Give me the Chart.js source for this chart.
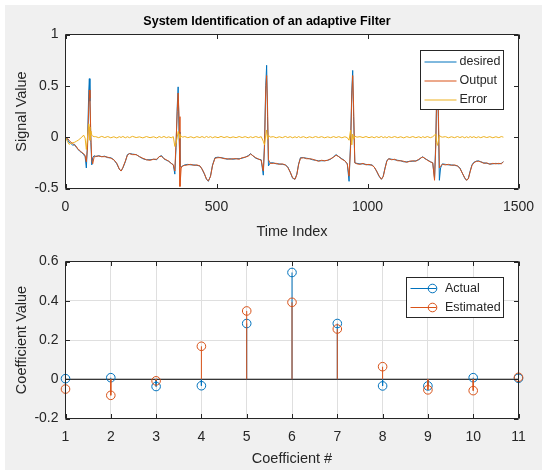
<!DOCTYPE html>
<meta charset="utf-8">
<title>System Identification of an adaptive Filter</title>
<script src="https://cdn.jsdelivr.net/npm/chart.js@4/dist/chart.umd.min.js"></script>
<style>
body { margin: 0; background: #fff; }
.fig { position: absolute; left: 5px; top: 5px; width: 537px; height: 465px; background: #f0f0f0; }
canvas { position: absolute; left: 0; }
.top { top: 0; }
.bottom { top: 245px; }
</style>

<div class="fig"></div>
<canvas class="top" width="547" height="245"></canvas>
<canvas class="bottom" width="547" height="225"></canvas>

<script>
// ---- top plot: signals vs time index ----
const timeIdx = [
	0, 6, 12, 18, 24, 30, 36, 42, 48, 54, 60, 65, 69, 73, 77, 79, 81, 84, 87, 90, 95,
	100, 110, 120, 130, 140, 150, 160, 170, 178, 184, 190, 198, 205, 212, 222, 234, 245, 256, 268, 280,
	292, 302, 310, 318, 326, 334, 342, 350, 357, 362, 366, 370, 373, 376, 379, 383, 388,
	395, 405, 415, 425, 435, 445, 452, 460, 467, 473, 480, 487, 495, 505, 515, 525, 535, 545, 555, 565,
	575, 585, 595, 605, 613, 620, 630, 640, 648, 655, 659, 663, 666, 669, 672, 678,
	688, 698, 708, 718, 728, 736, 744, 752, 760, 766, 772, 778, 788, 798, 808, 818, 828, 838, 848, 858,
	868, 878, 888, 896, 905, 915, 925, 933, 939, 944, 948, 951, 954, 958, 965,
	975, 985, 995, 1005, 1015, 1022, 1030, 1038, 1046, 1052, 1058, 1064, 1070, 1080, 1090, 1100, 1110, 1120, 1130, 1140,
	1150, 1160, 1170, 1178, 1183, 1190, 1198, 1208, 1216, 1222, 1226, 1229, 1232, 1235, 1238, 1242, 1248,
	1258, 1268, 1278, 1288, 1298, 1306, 1314, 1322, 1328, 1334, 1340, 1346, 1352, 1360, 1367, 1375, 1385, 1395, 1405, 1415,
	1425, 1435, 1443, 1450
];

const desired = [
	0, -0.02, -0.05, -0.06, -0.08, -0.07, -0.10, -0.12, -0.14, -0.15, -0.17, -0.19, -0.30, -0.05, 0.45, 0.57, 0.35, -0.05, -0.27, -0.20, -0.18,
	-0.19, -0.18, -0.19, -0.185, -0.20, -0.20, -0.22, -0.26, -0.31, -0.33, -0.30, -0.24, -0.17, -0.16, -0.165, -0.17, -0.19, -0.21, -0.22, -0.22,
	-0.215, -0.22, -0.19, -0.18, -0.21, -0.225, -0.235, -0.255, -0.27, -0.36, -0.10, 0.30, 0.49, 0.05, -0.28, -0.29, -0.28,
	-0.27, -0.265, -0.27, -0.27, -0.275, -0.28, -0.31, -0.36, -0.41, -0.43, -0.38, -0.27, -0.20, -0.195, -0.20, -0.205, -0.215, -0.21, -0.215, -0.21,
	-0.21, -0.205, -0.195, -0.18, -0.16, -0.18, -0.205, -0.215, -0.22, -0.37, -0.05, 0.50, 0.70, 0.20, -0.28, -0.25,
	-0.25, -0.26, -0.26, -0.265, -0.27, -0.29, -0.34, -0.40, -0.41, -0.36, -0.26, -0.20, -0.20, -0.205, -0.21, -0.22, -0.225, -0.23, -0.23, -0.23,
	-0.225, -0.215, -0.19, -0.17, -0.19, -0.21, -0.23, -0.26, -0.43, -0.05, 0.45, 0.65, 0.20, -0.25, -0.255,
	-0.26, -0.26, -0.265, -0.27, -0.27, -0.29, -0.33, -0.38, -0.41, -0.38, -0.30, -0.23, -0.21, -0.215, -0.22, -0.225, -0.23, -0.24, -0.24, -0.235,
	-0.235, -0.23, -0.22, -0.20, -0.19, -0.21, -0.22, -0.24, -0.25, -0.40, -0.05, 0.40, 0.55, 0.10, -0.42, -0.30, -0.26,
	-0.265, -0.27, -0.27, -0.275, -0.28, -0.30, -0.35, -0.40, -0.42, -0.40, -0.33, -0.27, -0.245, -0.235, -0.23, -0.24, -0.25, -0.255, -0.26, -0.26,
	-0.255, -0.26, -0.255, -0.24
];

const output = [
	0, -0.01, -0.03, -0.05, -0.06, -0.08, -0.09, -0.12, -0.13, -0.15, -0.16, -0.18, -0.24, -0.10, 0.30, 0.46, 0.38, 0.00, -0.22, -0.26, -0.19,
	-0.185, -0.185, -0.19, -0.19, -0.195, -0.205, -0.22, -0.255, -0.31, -0.33, -0.295, -0.235, -0.175, -0.16, -0.17, -0.17, -0.19, -0.205, -0.22, -0.225,
	-0.215, -0.215, -0.19, -0.185, -0.21, -0.22, -0.235, -0.255, -0.27, -0.33, -0.05, 0.25, 0.43, 0.20, -0.48, -0.30, -0.28,
	-0.275, -0.27, -0.265, -0.275, -0.27, -0.28, -0.31, -0.355, -0.41, -0.425, -0.385, -0.275, -0.205, -0.2, -0.2, -0.21, -0.21, -0.215, -0.21, -0.21,
	-0.215, -0.2, -0.195, -0.185, -0.165, -0.18, -0.2, -0.215, -0.225, -0.33, -0.10, 0.45, 0.60, 0.30, -0.22, -0.255,
	-0.255, -0.255, -0.265, -0.26, -0.27, -0.295, -0.34, -0.395, -0.41, -0.365, -0.265, -0.205, -0.2, -0.21, -0.21, -0.215, -0.225, -0.235, -0.225, -0.23,
	-0.225, -0.21, -0.195, -0.175, -0.19, -0.215, -0.23, -0.26, -0.38, -0.10, 0.40, 0.60, 0.30, -0.25, -0.26,
	-0.265, -0.255, -0.27, -0.265, -0.275, -0.29, -0.33, -0.375, -0.41, -0.385, -0.305, -0.235, -0.21, -0.22, -0.215, -0.23, -0.23, -0.235, -0.245, -0.235,
	-0.23, -0.235, -0.215, -0.2, -0.195, -0.205, -0.225, -0.24, -0.25, -0.42, -0.10, 0.40, 0.50, 0.20, -0.30, -0.28, -0.265,
	-0.27, -0.265, -0.275, -0.27, -0.28, -0.305, -0.35, -0.395, -0.42, -0.405, -0.335, -0.275, -0.25, -0.235, -0.235, -0.24, -0.255, -0.25, -0.265, -0.255,
	-0.26, -0.255, -0.26, -0.24
];

const errorSig = [
	0, -0.04, -0.07, -0.06, -0.055, -0.05, -0.04, -0.03, -0.015, 0.0, 0.02, -0.01, -0.12, 0.0, 0.13, 0.10, -0.03, 0.06, 0.02, 0.01, 0.005,
	0.005, -0.005, 0.008, -0.004, 0.006, -0.006, 0.004, -0.008, 0.005, -0.003, 0.007, -0.006, 0.004, -0.005, 0.008, -0.004, 0.003, -0.007, 0.006, -0.005,
	0.004, -0.008, 0.006, -0.004, 0.007, -0.005, 0.003, -0.006, 0.005, -0.09, -0.06, 0.00, 0.055, 0.03, -0.01, 0.01, 0.0,
	0.006, -0.005, 0.004, -0.007, 0.005, -0.004, 0.006, -0.005, 0.007, -0.003, 0.005, -0.006, 0.004, -0.005, 0.007, -0.004, 0.005, -0.006, 0.003, -0.005,
	0.006, -0.004, 0.005, -0.006, 0.004, -0.005, 0.006, -0.004, 0.005, -0.04, -0.075, 0.02, 0.07, -0.02, 0.02, 0.0,
	0.005, -0.006, 0.004, -0.005, 0.007, -0.004, 0.005, -0.006, 0.004, -0.005, 0.006, -0.004, 0.005, -0.007, 0.004, -0.005, 0.006, -0.004, 0.005, -0.006,
	0.003, -0.005, 0.006, -0.004, 0.005, -0.006, 0.004, -0.005, -0.03, 0.07, -0.075, 0.03, -0.02, 0.01, 0.0,
	0.005, -0.004, 0.006, -0.005, 0.004, -0.006, 0.005, -0.004, 0.007, -0.005, 0.004, -0.006, 0.005, -0.004, 0.006, -0.005, 0.004, -0.007, 0.005, -0.004,
	0.006, -0.005, 0.004, -0.006, 0.005, -0.004, 0.006, -0.005, 0.004, 0.02, 0.03, -0.05, -0.08, -0.03, 0.02, 0.005, 0.0,
	0.005, -0.006, 0.004, -0.005, 0.006, -0.004, 0.005, -0.006, 0.004, -0.005, 0.006, -0.004, 0.005, -0.006, 0.004, -0.005, 0.006, -0.004, 0.005, -0.006,
	0.004, -0.005, 0.006, 0.0
];

const signalNames = ['desired', 'Output', 'Error'];

// ---- bottom plot: filter coefficients ----
const coefIdx = [1, 2, 3, 4, 5, 6, 7, 8, 9, 10, 11];
const actualCoef = [0.003, 0.008, -0.037, -0.033, 0.284, 0.544, 0.284, -0.034, -0.034, 0.008, 0.005];
const estimatedCoef = [-0.05, -0.082, -0.008, 0.168, 0.348, 0.392, 0.256, 0.064, -0.054, -0.058, 0.01];
const coefNames = ['Actual', 'Estimated'];

const BLUE = '#0072BD', ORANGE = '#D95319', YELLOW = '#EDB120', AXIS = '#262626';
const FONT = "'Liberation Sans', Arial, sans-serif";

Chart.defaults.font.family = FONT;
Chart.defaults.color = AXIS;

const xy = (xs, ys) => xs.map((x, i) => ({x: x, y: ys[i]}));
// stem: line from baseline to value, broken with a null between stems
const stems = (xs, ys) => xs.flatMap((x, i) => [{x: x, y: 0}, {x: x, y: ys[i]}, {x: x, y: null}]);
// matlab prints 1 not 1.0, and no thousands separator
const plainTick = v => String(+v.toFixed(2));

// white axes face, box with ticks pointing inward
const axesBox = {
	id: 'axesBox',
	beforeDatasetsDraw(chart) {
		const {ctx, chartArea: a} = chart;
		ctx.save();
		ctx.fillStyle = '#fff';
		ctx.globalCompositeOperation = 'destination-over';
		ctx.fillRect(a.left, a.top, a.right - a.left, a.bottom - a.top);
		ctx.restore();
	},
	afterDatasetsDraw(chart) {
		const {ctx, chartArea: a, scales: {x, y}} = chart;
		const len = 4.5;
		ctx.save();
		ctx.strokeStyle = AXIS;
		ctx.lineWidth = 1;
		ctx.beginPath();
		x.ticks.forEach(t => {
			const px = Math.round(x.getPixelForValue(t.value)) + 0.5;
			ctx.moveTo(px, a.bottom); ctx.lineTo(px, a.bottom - len);
			ctx.moveTo(px, a.top); ctx.lineTo(px, a.top + len);
		});
		y.ticks.forEach(t => {
			const py = Math.round(y.getPixelForValue(t.value)) + 0.5;
			ctx.moveTo(a.left, py); ctx.lineTo(a.left + len, py);
			ctx.moveTo(a.right, py); ctx.lineTo(a.right - len, py);
		});
		ctx.rect(a.left, a.top, a.right - a.left, a.bottom - a.top);
		ctx.stroke();
		ctx.restore();
	}
};

// matlab style legend box inside the axes
function boxLegend(names, colors, box, withMarker) {
	return {
		id: 'boxLegend',
		afterDraw(chart) {
			const ctx = chart.ctx;
			ctx.save();
			ctx.fillStyle = '#fff';
			ctx.strokeStyle = AXIS;
			ctx.lineWidth = 1;
			ctx.fillRect(box.x, box.y, box.w, box.h);
			ctx.strokeRect(box.x, box.y, box.w, box.h);
			ctx.font = `12.5px ${FONT}`;
			ctx.textBaseline = 'middle';
			names.forEach((name, i) => {
				const y = box.y + box.first + i * box.step;
				ctx.strokeStyle = colors[i];
				ctx.beginPath();
				ctx.moveTo(box.x + 4, y);
				ctx.lineTo(box.x + box.line, y);
				ctx.stroke();
				if (withMarker) {
					ctx.beginPath();
					ctx.arc(box.x + box.line - 4, y, 4.3, 0, Math.PI * 2);
					ctx.stroke();
				}
				ctx.fillStyle = AXIS;
				ctx.fillText(name, box.x + box.text, y);
			});
			ctx.restore();
		}
	};
}

const plotTitle = {
	id: 'plotTitle',
	afterDraw(chart) {
		const ctx = chart.ctx;
		ctx.save();
		ctx.font = `bold 12.5px ${FONT}`;
		ctx.fillStyle = '#000';
		ctx.textAlign = 'center';
		ctx.textBaseline = 'middle';
		ctx.fillText('System Identification of an adaptive Filter', 267, 22);
		ctx.restore();
	}
};

const tickFont = {size: 14};
const labelFont = {size: 14.5};

new Chart(document.querySelector('.top'), {
	type: 'line',
	data: {
		datasets: [
			{label: signalNames[0], data: xy(timeIdx, desired), borderColor: BLUE, order: 3},
			{label: signalNames[1], data: xy(timeIdx, output), borderColor: ORANGE, order: 2},
			{label: signalNames[2], data: xy(timeIdx, errorSig), borderColor: YELLOW, order: 1},
		]
	},
	options: {
		responsive: false,
		devicePixelRatio: 1,
		animation: false,
		events: [],
		layout: {padding: {top: 34.5, right: 28.5, left: 0, bottom: 0}},
		elements: {
			line: {borderWidth: 1, tension: 0},
			point: {radius: 0},
		},
		plugins: {legend: {display: false}, tooltip: {enabled: false}},
		scales: {
			x: {
				type: 'linear',
				min: 0, max: 1500,
				ticks: {stepSize: 500, font: tickFont, padding: 10, callback: plainTick},
				grid: {display: false, drawTicks: false},
				border: {display: false},
				title: {display: true, text: 'Time Index', font: labelFont, padding: {top: 0, bottom: 4}},
				afterFit: s => { s.height = 56.5; },
			},
			y: {
				min: -0.5, max: 1,
				ticks: {stepSize: 0.5, font: tickFont, padding: 7, callback: plainTick},
				grid: {display: false, drawTicks: false},
				border: {display: false},
				title: {display: true, text: 'Signal Value', font: labelFont, padding: {top: 13, bottom: 0}},
				afterFit: s => { s.width = 65.5; },
			}
		}
	},
	plugins: [axesBox, plotTitle, boxLegend(signalNames, [BLUE, ORANGE, YELLOW],
		{x: 420.5, y: 50.5, w: 83, h: 59, first: 11.5, step: 19, line: 36, text: 39}, false)]
});

new Chart(document.querySelector('.bottom'), {
	type: 'line',
	data: {
		datasets: [
			{data: [{x: 1, y: 0}, {x: 11, y: 0}], borderColor: '#000', order: 5},
			{data: stems(coefIdx, actualCoef), borderColor: BLUE, order: 4},
			{data: xy(coefIdx, actualCoef), borderColor: BLUE, showLine: false, pointRadius: 4.3,
				pointBorderColor: BLUE, pointBorderWidth: 1, pointBackgroundColor: 'rgba(0,0,0,0)', clip: 8, order: 3},
			{data: stems(coefIdx, estimatedCoef), borderColor: ORANGE, order: 2},
			{data: xy(coefIdx, estimatedCoef), borderColor: ORANGE, showLine: false, pointRadius: 4.3,
				pointBorderColor: ORANGE, pointBorderWidth: 1, pointBackgroundColor: 'rgba(0,0,0,0)', clip: 8, order: 1},
		]
	},
	options: {
		responsive: false,
		devicePixelRatio: 1,
		animation: false,
		events: [],
		spanGaps: false,
		layout: {padding: {top: 16.5, right: 28.5, left: 0, bottom: 0}},
		elements: {
			line: {borderWidth: 1, tension: 0},
			point: {radius: 0},
		},
		plugins: {legend: {display: false}, tooltip: {enabled: false}},
		scales: {
			x: {
				type: 'linear',
				min: 1, max: 11,
				ticks: {stepSize: 1, font: tickFont, padding: 10, callback: plainTick},
				grid: {color: '#dfdfdf', drawTicks: false},
				border: {display: false},
				title: {display: true, text: 'Coefficient #', font: labelFont, padding: {top: 0, bottom: 2}},
				afterFit: s => { s.height = 51.5; },
			},
			y: {
				min: -0.2, max: 0.6,
				ticks: {stepSize: 0.2, font: tickFont, padding: 7, callback: plainTick},
				grid: {color: '#dfdfdf', drawTicks: false},
				border: {display: false},
				title: {display: true, text: 'Coefficient Value', font: labelFont, padding: {top: 13, bottom: 0}},
				afterFit: s => { s.width = 65.5; },
			}
		}
	},
	plugins: [axesBox, boxLegend(coefNames, [BLUE, ORANGE],
		{x: 406.5, y: 32.5, w: 97, h: 40, first: 11, step: 19, line: 30, text: 38.5}, true)]
});
</script>
